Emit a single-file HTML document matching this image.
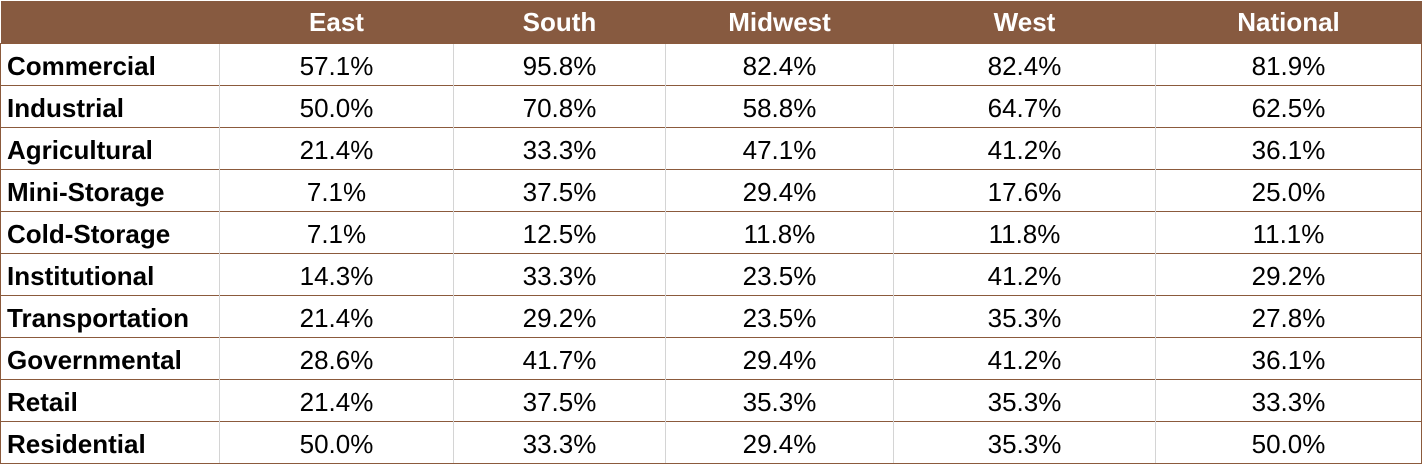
<!DOCTYPE html>
<html><head><style>
body{margin:0;width:1424px;height:463px;background:#fff;overflow:hidden;font-family:"Liberation Sans",sans-serif;}
table{position:absolute;left:0;top:1px;border-collapse:collapse;table-layout:fixed;}
td,th{padding:0;font-size:26px;text-align:center;color:#000;line-height:30px;overflow:hidden;}
th{background:#875A40;color:#fff;font-weight:bold;height:42px;}
td{border-top:1px solid #8B5A3C;border-left:1px solid #d4d4d4;height:42px;padding-top:2px;box-sizing:border-box;}
td:first-child{text-align:left;font-weight:bold;padding-left:6px;border-left:1px solid #8B5A3C;}
td:last-child{border-right:1px solid #8B5A3C;}
tr:last-child td{border-bottom:1px solid #8B5A3C;}
</style></head><body>
<table>
<colgroup><col style="width:219px"><col style="width:234px"><col style="width:212px"><col style="width:228px"><col style="width:262px"><col style="width:266px"></colgroup>
<tr><th></th><th>East</th><th>South</th><th>Midwest</th><th>West</th><th>National</th></tr>
<tr><td>Commercial</td><td>57.1%</td><td>95.8%</td><td>82.4%</td><td>82.4%</td><td>81.9%</td></tr>
<tr><td>Industrial</td><td>50.0%</td><td>70.8%</td><td>58.8%</td><td>64.7%</td><td>62.5%</td></tr>
<tr><td>Agricultural</td><td>21.4%</td><td>33.3%</td><td>47.1%</td><td>41.2%</td><td>36.1%</td></tr>
<tr><td>Mini-Storage</td><td>7.1%</td><td>37.5%</td><td>29.4%</td><td>17.6%</td><td>25.0%</td></tr>
<tr><td>Cold-Storage</td><td>7.1%</td><td>12.5%</td><td>11.8%</td><td>11.8%</td><td>11.1%</td></tr>
<tr><td>Institutional</td><td>14.3%</td><td>33.3%</td><td>23.5%</td><td>41.2%</td><td>29.2%</td></tr>
<tr><td>Transportation</td><td>21.4%</td><td>29.2%</td><td>23.5%</td><td>35.3%</td><td>27.8%</td></tr>
<tr><td>Governmental</td><td>28.6%</td><td>41.7%</td><td>29.4%</td><td>41.2%</td><td>36.1%</td></tr>
<tr><td>Retail</td><td>21.4%</td><td>37.5%</td><td>35.3%</td><td>35.3%</td><td>33.3%</td></tr>
<tr><td>Residential</td><td>50.0%</td><td>33.3%</td><td>29.4%</td><td>35.3%</td><td>50.0%</td></tr>
</table>
</body></html>
